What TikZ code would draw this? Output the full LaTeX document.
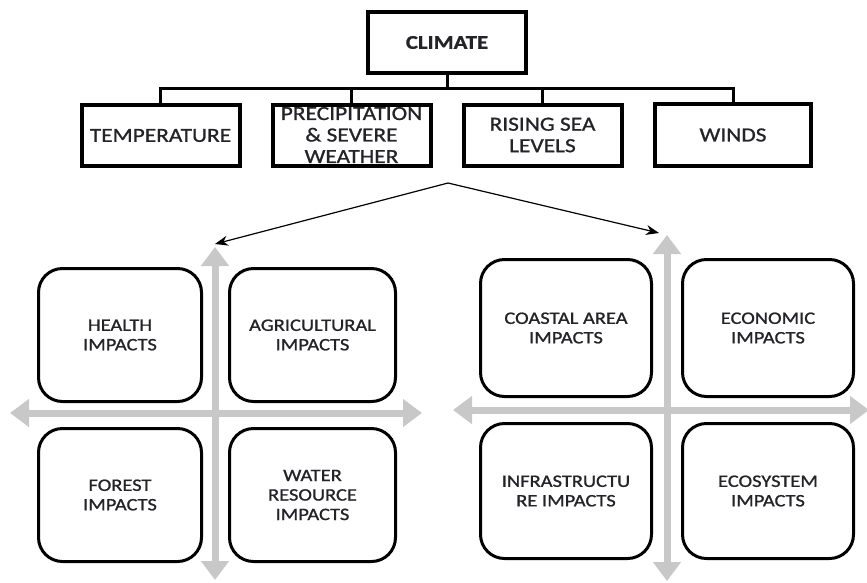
\documentclass[tikz,border=0pt]{standalone}
\usepackage{fontspec}
\setmainfont{Carlito}[FakeStretch=1.17, FakeBold=1]
\usetikzlibrary{arrows.meta}
\definecolor{axisgray}{RGB}{200,200,200}
\definecolor{txt}{RGB}{35,35,40}
\tikzset{
  topbox/.style={draw=black, line width=4pt, fill=white, minimum width=158pt, minimum height=61pt, inner sep=0pt, align=center, text=txt, font=\fontsize{20}{21.5}\selectfont},
  impbox/.style={draw=black, line width=3pt, rounded corners=24pt, fill=white, inner sep=0pt, align=center, text=txt, font=\fontsize{17.5}{19.5}\selectfont},
  conn/.style={draw=black, line width=3pt},
  ptr/.style={draw=black, line width=1.2pt, -{Stealth[length=13pt,width=10pt]}},
  axis/.style={draw=axisgray, line width=7pt, {Triangle[width=27pt,length=19pt]}-{Triangle[width=27pt,length=19pt]}}
}
\begin{document}
\begin{tikzpicture}[x=1pt,y=-1pt]
\useasboundingbox (0,0) rectangle (867,582);
% top level
\node[topbox, font=\bfseries\fontsize{19.5}{21}\selectfont] (climate) at (447,42.5) {CLIMATE};
\node[topbox] (temp) at (160.5,135.5) {TEMPERATURE};
\node[topbox] (precip) at (351.5,135) {PRECIPITATION\\\& SEVERE\\WEATHER};
\node[topbox] (rising) at (542.5,135) {RISING SEA\\LEVELS};
\node[topbox, minimum width=156pt, minimum height=62pt] (winds) at (733,135) {WINDS};
\coordinate (bus) at (447,88);
\draw[conn] (climate.south) -- (bus);
\draw[conn, line join=miter] (temp.north) |- (bus) -| (winds.north);
\draw[conn] (precip.north) -- (precip.north |- bus);
\draw[conn] (rising.north) -- (rising.north |- bus);
% gray axes
\coordinate (lvt) at (215,247); \coordinate (lvb) at (215,580);
\coordinate (lhl) at (10,413); \coordinate (lhr) at (422,413);
\coordinate (rvt) at (667,235); \coordinate (rvb) at (667,581);
\coordinate (rhl) at (453,410); \coordinate (rhr) at (869,410);
\draw[axis] (lvt) -- (lvb);
\draw[axis] (lhl) -- (lhr);
\draw[axis] (rvt) -- (rvb);
\draw[axis] (rhl) -- (rhr);
% pointers
\coordinate (split) at (448,183);
\coordinate (lt) at (215,244);
\coordinate (rt) at (659,233);
\draw[ptr] (split) -- (lt);
\draw[ptr] (split) -- (rt);
% impact boxes left
\node[impbox, minimum width=163pt, minimum height=133pt] (health) at (120,335) {HEALTH\\IMPACTS};
\node[impbox, minimum width=166pt, minimum height=133pt] (agri) at (312.5,335) {AGRICULTURAL\\IMPACTS};
\node[impbox, minimum width=163pt, minimum height=133pt] (forest) at (120,495) {FOREST\\IMPACTS};
\node[impbox, minimum width=166pt, minimum height=133pt] (water) at (312.5,495) {WATER\\RESOURCE\\IMPACTS};
% impact boxes right
\node[impbox, minimum width=171pt, minimum height=137pt] (coastal) at (566,328) {COASTAL AREA\\IMPACTS};
\node[impbox, minimum width=171pt, minimum height=137pt] (econ) at (768,328) {ECONOMIC\\IMPACTS};
\node[impbox, minimum width=171pt, minimum height=135pt] (infra) at (566,491) {INFRASTRUCTU\\RE IMPACTS};
\node[impbox, minimum width=171pt, minimum height=135pt] (eco) at (768,491) {ECOSYSTEM\\IMPACTS};
\end{tikzpicture}
\end{document}
